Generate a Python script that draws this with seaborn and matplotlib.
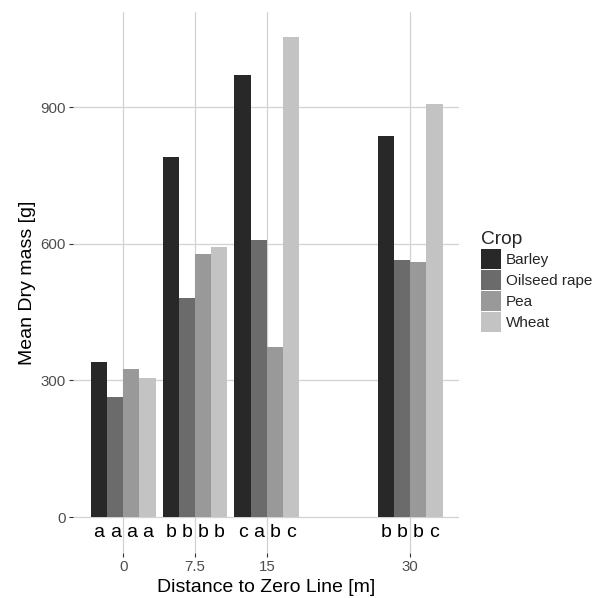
import matplotlib.pyplot as plt
import seaborn as sns
import pandas as pd
from matplotlib.patches import Patch

# distances along the transect [m]
distance = [0, 7.5, 15, 30]
crops = ["Barley", "Oilseed rape", "Pea", "Wheat"]

# mean dry mass [g] per crop at each distance
barley = [341, 791, 970, 837]
oilseed = [264, 481, 608, 564]
pea = [324, 578, 373, 559]
wheat = [306, 592, 1054, 906]

# significance letters per crop at each distance
letters_barley = ["a", "b", "c", "b"]
letters_oilseed = ["a", "b", "a", "b"]
letters_pea = ["a", "b", "b", "b"]
letters_wheat = ["a", "b", "c", "c"]

greys = ["#282828", "#6b6b6b", "#999999", "#c3c3c3"]

values = {"Barley": barley, "Oilseed rape": oilseed, "Pea": pea, "Wheat": wheat}
letters = {"Barley": letters_barley, "Oilseed rape": letters_oilseed,
           "Pea": letters_pea, "Wheat": letters_wheat}

rows = []
for crop in crops:
    for d, v, l in zip(distance, values[crop], letters[crop]):
        rows.append({"distance": d, "mass": v, "crop": crop, "letter": l})
df = pd.DataFrame(rows)

sns.set_theme(style="whitegrid", rc={
    "axes.edgecolor": "none",
    "grid.color": "#d2d2d2",
    "grid.linewidth": 0.9,
    "xtick.bottom": True,
    "ytick.left": True,
})
plt.rcParams["font.family"] = ["Liberation Sans", "DejaVu Sans"]

fig = plt.figure(figsize=(6.04, 5.98), dpi=100)
ax = fig.add_axes([73 / 604, 1 - 553 / 598, (459 - 73) / 604, (553 - 12) / 598])

sns.barplot(ax=ax, data=df, x="distance", y="mass", hue="crop",
            hue_order=crops, palette=greys, native_scale=True,
            width=0.9, errorbar=None, legend=False, saturation=1,
            linewidth=0)

# letters under each bar
for crop, cont in zip(crops, ax.containers):
    lookup = dict(zip(distance, letters[crop]))
    for bar in cont:
        cx = bar.get_x() + bar.get_width() / 2
        d = min(distance, key=lambda v: abs(v - cx))
        ax.text(cx, -33, lookup[d], ha="center", va="center",
                fontsize=14, color="black")

ax.set_xlim(-5.26, 35.1)
ax.set_ylim(-79, 1109)
ax.set_xticks(distance)
ax.set_xticklabels(["0", "7.5", "15", "30"])
ax.set_yticks([0, 300, 600, 900])
ax.set_yticklabels(["0", "300", "600", "900"])
ax.tick_params(axis="both", length=3, width=0.8, color="#333333",
               labelcolor="#4d4d4d", labelsize=10.8, pad=2)
ax.grid(True, axis="both")
ax.set_xlabel("Distance to Zero Line [m]", fontsize=14, color="black", labelpad=4)
ax.set_ylabel("Mean Dry mass [g]", fontsize=14, color="black", labelpad=3)

handles = [Patch(facecolor=c, edgecolor="none") for c in greys]
leg = fig.legend(handles, crops, title="Crop", loc="upper left",
                 bbox_to_anchor=(481 / 604, 1 - 231 / 598), frameon=False,
                 fontsize=11, title_fontsize=13.8, handlelength=1.31,
                 handleheight=1.64, labelspacing=0.06, handletextpad=0.3,
                 borderpad=0, borderaxespad=0, alignment="left")

fig.savefig("out.png", dpi=100)
